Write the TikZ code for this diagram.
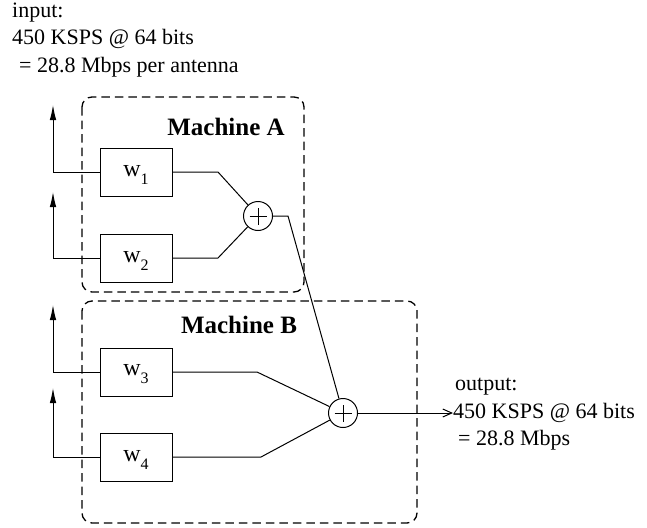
\documentclass[tikz,border=0pt]{standalone}
\usepackage{fontspec}
\setmainfont{Liberation Serif}
\usetikzlibrary{arrows.meta,calc}
\newcommand\wlab[1]{\raisebox{-2.5pt}[\height][\depth]{w\raisebox{-8pt}{\fontsize{16}{16}\selectfont #1}}}
\begin{document}
\begin{tikzpicture}[x=1pt,y=-1pt,
  txt/.style={font=\fontsize{22}{27}\selectfont, inner sep=0pt, anchor=base west},
  mach/.style={font=\fontsize{25}{30}\selectfont\bfseries, inner sep=0pt, anchor=base},
  wbox/.style={draw, line width=1pt, minimum width=72pt, minimum height=48pt, inner sep=0pt, font=\fontsize{24}{28}\selectfont},
  sum/.style={draw, circle, line width=1pt, minimum size=29pt, inner sep=0pt,
    path picture={\draw[line width=1pt]
      ([xshift=-8.5pt]path picture bounding box.center) -- ([xshift=8.5pt]path picture bounding box.center)
      ([yshift=-8.5pt]path picture bounding box.center) -- ([yshift=8.5pt]path picture bounding box.center);}},
  region/.style={draw, dash pattern=on 8.5pt off 5pt, rounded corners=10pt, line width=1.3pt},
  wire/.style={line width=1pt},
  upar/.style={wire, -{Latex[length=15pt,width=6.5pt]}},
  outar/.style={wire, -{Straight Barb[length=9pt,width=8pt]}}
]
\useasboundingbox (0,0) rectangle (647,527);
% machine regions
\draw[region] (82,97) rectangle (304,292);
\draw[region] (82,301) rectangle (417,523);
\node[mach] (ma) at (226,135) {Machine A};
\node[mach] (mb) at (239,333) {Machine B};
% input text
\node[txt] (in1) at (12,18) {input:};
\node[txt] (in2) at (12,45) {450 KSPS @ 64 bits};
\node[txt] (in3) at (19,72) {= 28.8 Mbps per antenna};
% output text
\node[txt] (out1) at (455,390) {output:};
\node[txt] (out2) at (453,418) {450 KSPS @ 64 bits};
\node[txt] (out3) at (458,445) {= 28.8 Mbps};
% weight boxes
\node[wbox] (w1) at (136,172) {\wlab{1}};
\node[wbox] (w2) at (136,258) {\wlab{2}};
\node[wbox] (w3) at (136,372) {\wlab{3}};
\node[wbox] (w4) at (136,457) {\wlab{4}};
% summers
\node[sum] (sa) at (258,216) {};
\node[sum] (sb) at (343,413) {};
% upward outputs
\coordinate (a1) at (53,105);
\coordinate (a2) at (53,192);
\coordinate (a3) at (53,305);
\coordinate (a4) at (53,388);
\draw[upar] (w1.west) -| (a1);
\draw[upar] (w2.west) -| (a2);
\draw[upar] (w3.west) -| (a3);
\draw[upar] (w4.west) -| (a4);
% connections to summers
\draw[wire] (w1.east) -- (218,172) -- (sa);
\draw[wire] (w2.east) -- (218,258) -- (sa);
\draw[wire] (sa.east) -- (288,216) -- (sb);
\draw[wire] (w3.east) -- (257,372) -- (sb);
\draw[wire] (w4.east) -- (261,457) -- (sb);
\draw[outar] (sb.east) -- (sb.east -| out2.west);
\end{tikzpicture}
\end{document}
